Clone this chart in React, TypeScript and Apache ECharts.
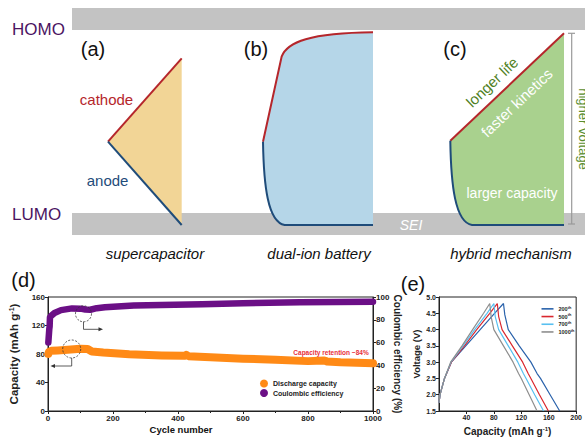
import React, { useEffect, useRef } from "react";
import * as echarts from "echarts";

const FONT = "Liberation Sans, Arial, Helvetica, sans-serif";

// ---------- Panel (d): cycling ----------
const cycleMin = 0;
const cycleMax = 1000;
const capacityPoints: [number, number][] = [
  [1, 80], [3, 83], [10, 84.5], [30, 85], [60, 86], [100, 87.5], [122, 87],
  [135, 83.5], [170, 82], [250, 79.5], [350, 78], [420, 77.5], [425, 78.8],
  [432, 77], [500, 75.5], [600, 73.5], [700, 72], [800, 70], [850, 70.8],
  [858, 69.6], [900, 68.5], [1000, 67],
];
const cePoints: [number, number][] = [
  [1, 60], [2, 64], [3, 68], [4, 72], [5, 74], [6, 82], [10, 83.5], [20, 86],
  [40, 88.5], [74, 90], [100, 89.8], [115, 89], [130, 88.8], [150, 90.2],
  [175, 91], [264, 92.5], [474, 93.6], [600, 94.6], [775, 95.3], [1000, 95.9],
];
const dSeriesNames = ["Discharge capacity", "Coulombic efficiency"];

// ---------- Panel (e): charge/discharge profiles ----------
const eSeriesNames = ["200th", "500th", "700th", "1000th"];
const charge200: [number, number][] = [[0, 1.75], [1.5, 2.0], [8, 2.5], [18, 3.0], [39, 3.5], [60, 4.0], [81, 4.5], [94, 4.8]];
const discharge200: [number, number][] = [[94, 4.8], [96, 4.45], [101, 4.0], [117, 3.5], [134, 3.0], [143, 2.65], [148, 2.5], [162, 2.0], [176, 1.5]];
const charge500: [number, number][] = [[0, 1.75], [1.5, 2.0], [8, 2.5], [18, 3.0], [37, 3.5], [55, 4.0], [74, 4.5], [85, 4.8]];
const discharge500: [number, number][] = [[85, 4.8], [87, 4.4], [92, 4.0], [107, 3.5], [122, 3.0], [130, 2.65], [134, 2.5], [146.5, 2.0], [159.5, 1.5]];
const charge700: [number, number][] = [[0, 1.75], [1.5, 2.0], [8, 2.5], [17.5, 3.0], [35, 3.5], [52, 4.0], [70, 4.5], [80, 4.8]];
const discharge700: [number, number][] = [[80, 4.8], [82, 4.4], [87, 4.0], [101, 3.5], [115, 3.0], [123, 2.65], [127, 2.5], [139.5, 2.0], [152.5, 1.5]];
const charge1000: [number, number][] = [[0, 1.75], [1.5, 2.0], [8, 2.5], [17, 3.0], [33.5, 3.5], [49, 4.0], [65, 4.5], [74, 4.8]];
const discharge1000: [number, number][] = [[74, 4.8], [76, 4.4], [80, 4.0], [94, 3.5], [108, 3.0], [116, 2.65], [120, 2.5], [131.5, 2.0], [143, 1.5]];
const eCurves = [
  [...charge200, ...discharge200],
  [...charge500, ...discharge500],
  [...charge700, ...discharge700],
  [...charge1000, ...discharge1000],
];
const eColors = ["#2a62ab", "#d9272e", "#58c0f0", "#8e8e8e"];

// ---------- schematic shapes (illustration, not data) ----------
let registered = false;
function registerShapes() {
  if (registered) return;
  registered = true;
  const reg = (name: string, d: string) =>
    echarts.graphic.registerShape(name, echarts.graphic.extendPath(d, {}) as any);
  reg("fillB", "M263 141.7 L281.6 56.7 C287 42 310 33 373 32.3 L373 225 L284.7 225 C267.7 222 263.7 185 263 141.7 Z");
  reg("redB", "M263 141.7 L281.6 56.7 C287 42 310 33 373 32.3");
  reg("blueB", "M263 141.7 C263.7 185 267.7 222 284.7 225 L373 225");
  reg("fillC", "M450.3 140.7 L564 33.3 L564 225 L472 225 C455 222 451 185 450.3 140.7 Z");
  reg("blueC", "M450.3 140.7 C451 185 455 222 472 225 L564 225");
}

const RED = "#b5262b";
const BLUE = "#1f4c7a";

function txt(text: string, x: number, y: number, o: any = {}) {
  return {
    type: "text",
    x,
    y,
    rotation: o.rotation || 0,
    z: 20,
    style: {
      text,
      fill: o.fill || "#111",
      fontSize: o.fontSize || 14,
      fontFamily: FONT,
      fontWeight: o.fontWeight || "normal",
      fontStyle: o.fontStyle || "normal",
      textAlign: o.align || "center",
      align: o.align || "center",
      textVerticalAlign: "middle",
      verticalAlign: "middle",
    },
  };
}

function buildGraphics() {
  const ang = Math.atan2(140.7 - 33.3, 564 - 450.3);
  const g: any[] = [
    { type: "rect", z: 1, shape: { x: 72, y: 8, width: 513, height: 22 }, style: { fill: "#c3c3c3" } },
    { type: "rect", z: 1, shape: { x: 72, y: 213, width: 513, height: 22 }, style: { fill: "#c3c3c3" } },
    // (a)
    { type: "polygon", z: 5, shape: { points: [[108, 141.7], [181.7, 58.3], [181.7, 225]] }, style: { fill: "#f2d596" } },
    { type: "line", z: 6, shape: { x1: 108, y1: 141.7, x2: 181.7, y2: 58.3 }, style: { stroke: RED, lineWidth: 2 } },
    { type: "line", z: 6, shape: { x1: 108, y1: 141.7, x2: 181.7, y2: 225 }, style: { stroke: BLUE, lineWidth: 2 } },
    // (b)
    { type: "fillB", z: 5, style: { fill: "#b5d6e8" } },
    { type: "redB", z: 6, style: { fill: "none", stroke: RED, lineWidth: 2 } },
    { type: "blueB", z: 6, style: { fill: "none", stroke: BLUE, lineWidth: 2 } },
    // (c)
    { type: "fillC", z: 5, style: { fill: "#a9d18e" } },
    { type: "line", z: 6, shape: { x1: 450.3, y1: 140.7, x2: 564, y2: 33.3 }, style: { stroke: RED, lineWidth: 2 } },
    { type: "blueC", z: 6, style: { fill: "none", stroke: BLUE, lineWidth: 2 } },
    { type: "line", z: 6, shape: { x1: 571.7, y1: 33.3, x2: 571.7, y2: 224 }, style: { stroke: "#9a9a9a", lineWidth: 1.2 } },
    { type: "line", z: 6, shape: { x1: 568, y1: 33.3, x2: 575, y2: 33.3 }, style: { stroke: "#9a9a9a", lineWidth: 1.2 } },
    { type: "line", z: 6, shape: { x1: 568, y1: 224, x2: 575, y2: 224 }, style: { stroke: "#9a9a9a", lineWidth: 1.2 } },

    txt("HOMO", 12, 29, { fontSize: 17, fill: "#4b1462", align: "left" }),
    txt("LUMO", 12, 214, { fontSize: 17, fill: "#4b1462", align: "left" }),
    txt("(a)", 93, 49, { fontSize: 20 }),
    txt("(b)", 256, 49, { fontSize: 20 }),
    txt("(c)", 455, 49, { fontSize: 20 }),
    txt("cathode", 106.5, 99, { fontSize: 15, fill: RED }),
    txt("anode", 107.6, 180, { fontSize: 15, fill: BLUE }),
    txt("longer life", 492, 82, { fontSize: 15, fill: "#4f7f24", rotation: ang }),
    txt("faster kinetics", 516.7, 102.7, { fontSize: 15, fill: "#ffffff", rotation: ang }),
    txt("larger capacity", 512, 193.3, { fontSize: 14, fill: "#ffffff" }),
    txt("SEI", 411, 225, { fontSize: 14, fill: "#ffffff", fontStyle: "italic" }),
    txt("higher voltage", 583, 129, { fontSize: 13, fill: "#5a8d2e", rotation: -Math.PI / 2 }),
    txt("supercapacitor", 155, 253, { fontSize: 15, fontStyle: "italic" }),
    txt("dual-ion battery", 319, 253, { fontSize: 15, fontStyle: "italic" }),
    txt("hybrid mechanism", 511, 253, { fontSize: 15, fontStyle: "italic" }),

    txt("(d)", 23.5, 280, { fontSize: 20 }),
    txt("(e)", 413, 284, { fontSize: 20 }),
    txt("Cycle number", 181, 429.5, { fontSize: 9.5, fontWeight: "bold" }),
    txt("Capacity retention ~84%", 331, 352.3, { fontSize: 6.5, fontWeight: "bold", fill: "#e8303a" }),

    // annotation circles + arrows in (d)
    { type: "circle", z: 30, shape: { cx: 71.7, cy: 349, r: 9 }, style: { fill: "none", stroke: "#333", lineWidth: 0.8, lineDash: [2, 1.5] } },
    { type: "polyline", z: 30, shape: { points: [[71.7, 358], [71.7, 366], [54, 366]] }, style: { fill: "none", stroke: "#333", lineWidth: 0.8 } },
    { type: "polygon", z: 30, shape: { points: [[50.5, 366], [55, 364], [55, 368]] }, style: { fill: "#333" } },
    { type: "circle", z: 30, shape: { cx: 83.5, cy: 313.8, r: 8 }, style: { fill: "none", stroke: "#333", lineWidth: 0.8, lineDash: [2, 1.5] } },
    { type: "polyline", z: 30, shape: { points: [[83.5, 321.8], [83.5, 329.3], [99, 329.3]] }, style: { fill: "none", stroke: "#333", lineWidth: 0.8 } },
    { type: "polygon", z: 30, shape: { points: [[103, 329.3], [98.5, 327.3], [98.5, 331.3]] }, style: { fill: "#333" } },
  ];
  return g;
}

const axisCommon = {
  axisLine: { show: true, lineStyle: { color: "#222", width: 1 } },
  axisTick: { show: true, inside: false, length: 3, lineStyle: { color: "#222" } },
  splitLine: { show: false },
  nameMoveOverlap: false,
};
const tickLabel = (size: number) => ({ fontSize: size, fontWeight: "bold", color: "#222", fontFamily: FONT });
const plain = (v: number) => String(v);

function buildOption() {
  return {
    animation: false,
    backgroundColor: "#ffffff",
    textStyle: { fontFamily: FONT },
    grid: [
      { left: 42, right: 212, top: 297, bottom: 30, show: true, borderColor: "#222", borderWidth: 1, backgroundColor: "transparent" },
      { left: 439, right: 3, top: 297, bottom: 30, show: true, borderColor: "#222", borderWidth: 1, backgroundColor: "transparent" },
    ],
    xAxis: [
      {
        type: "value", gridIndex: 0, min: cycleMin, max: cycleMax, interval: 200,
        ...axisCommon,
        minorTick: { show: true, splitNumber: 2, length: 2, lineStyle: { color: "#222" } },
        axisLabel: { ...tickLabel(8), margin: 3, formatter: plain },
      },
      {
        type: "value", gridIndex: 1, min: 0, max: 200, interval: 40,
        ...axisCommon,
        axisLabel: { ...tickLabel(7), margin: 3, showMinLabel: false, formatter: plain },
        name: "{a|Capacity (mAh g}{b|-1}{a|)}",
        nameLocation: "middle",
        nameGap: 15,
        nameTextStyle: {
          rich: {
            a: { fontSize: 10, fontWeight: "bold", fontFamily: FONT, color: "#222" },
            b: { fontSize: 6, fontWeight: "bold", fontFamily: FONT, color: "#222", verticalAlign: "top" },
          },
        },
      },
    ],
    yAxis: [
      {
        type: "value", gridIndex: 0, min: 0, max: 160, interval: 40,
        ...axisCommon,
        axisLabel: { ...tickLabel(8), margin: 3, formatter: plain },
        name: "{a|Capacity (mAh g}{b|-1}{a|)}",
        nameLocation: "middle",
        nameGap: 28,
        nameRotate: 90,
        nameTextStyle: {
          rich: {
            a: { fontSize: 11.5, fontWeight: "bold", fontFamily: FONT, color: "#222" },
            b: { fontSize: 7, fontWeight: "bold", fontFamily: FONT, color: "#222", verticalAlign: "top" },
          },
        },
      },
      {
        type: "value", gridIndex: 0, position: "right", min: 0, max: 100, interval: 20,
        ...axisCommon,
        axisLabel: { ...tickLabel(8), margin: 3, formatter: plain },
        name: "Coulombic efficiency (%)",
        nameLocation: "middle",
        nameGap: 19,
        nameRotate: 270,
        nameTextStyle: { fontSize: 10, fontWeight: "bold", fontFamily: FONT, color: "#222" },
      },
      {
        type: "value", gridIndex: 1, min: 1.5, max: 5.0, interval: 0.5,
        ...axisCommon,
        axisLabel: { ...tickLabel(7), margin: 3, formatter: (v: number) => v.toFixed(1) },
        name: "Voltage (V)",
        nameLocation: "middle",
        nameGap: 18,
        nameRotate: 90,
        nameTextStyle: { fontSize: 9.5, fontWeight: "bold", fontFamily: FONT, color: "#222" },
      },
    ],
    legend: [
      {
        data: dSeriesNames.map((n) => ({ name: n, icon: "circle" })),
        orient: "vertical",
        left: 260,
        top: 379.5,
        itemWidth: 8,
        itemHeight: 8,
        itemGap: 1.5,
        padding: 0,
        textStyle: { fontSize: 7, fontWeight: "bold", color: "#222", fontFamily: FONT },
      },
      {
        data: eSeriesNames.map((n) => ({ name: n, icon: "rect" })),
        orient: "vertical",
        left: 541.5,
        top: 305.5,
        itemWidth: 12,
        itemHeight: 1.6,
        itemGap: 1,
        padding: 0,
        formatter: (name: string) => {
          const m = name.match(/^(\d+)(th)$/);
          return m ? `{n|${m[1]}}{s|${m[2]}}` : name;
        },
        textStyle: {
          fontFamily: FONT,
          color: "#222",
          lineHeight: 6.7,
          rich: {
            n: { fontSize: 5.5, fontWeight: "bold", fontFamily: FONT, color: "#222", lineHeight: 6.7 },
            s: { fontSize: 3.8, fontWeight: "bold", fontFamily: FONT, color: "#222", verticalAlign: "top", lineHeight: 6.7 },
          },
        },
      },
    ],
    series: [
      {
        name: dSeriesNames[0], type: "line", xAxisIndex: 0, yAxisIndex: 0,
        data: capacityPoints, showSymbol: false, z: 3,
        color: "#ff8a16",
        lineStyle: { width: 8, color: "#ff8a16", cap: "round", join: "round" },
      },
      {
        name: dSeriesNames[1], type: "line", xAxisIndex: 0, yAxisIndex: 1,
        data: cePoints, showSymbol: false, z: 3,
        color: "#6b0f86",
        lineStyle: { width: 6.5, color: "#6b0f86", cap: "round", join: "round" },
      },
      ...eSeriesNames.map((n, i) => ({
        name: n, type: "line", xAxisIndex: 1, yAxisIndex: 2,
        data: eCurves[i], showSymbol: false, z: 3,
        color: eColors[i],
        lineStyle: { width: 1.2, color: eColors[i] },
      })),
    ],
    graphic: buildGraphics(),
  };
}

export default function App() {
  const ref = useRef<HTMLDivElement>(null);
  useEffect(() => {
    document.body.style.margin = "0";
    if (!ref.current) return;
    registerShapes();
    const chart = echarts.init(ref.current, undefined, { renderer: "svg" });
    chart.setOption(buildOption() as any);
    return () => chart.dispose();
  }, []);
  return (
    <div
      ref={ref}
      style={{ position: "absolute", left: 0, top: 0, width: 585, height: 441, background: "#fff" }}
    />
  );
}
